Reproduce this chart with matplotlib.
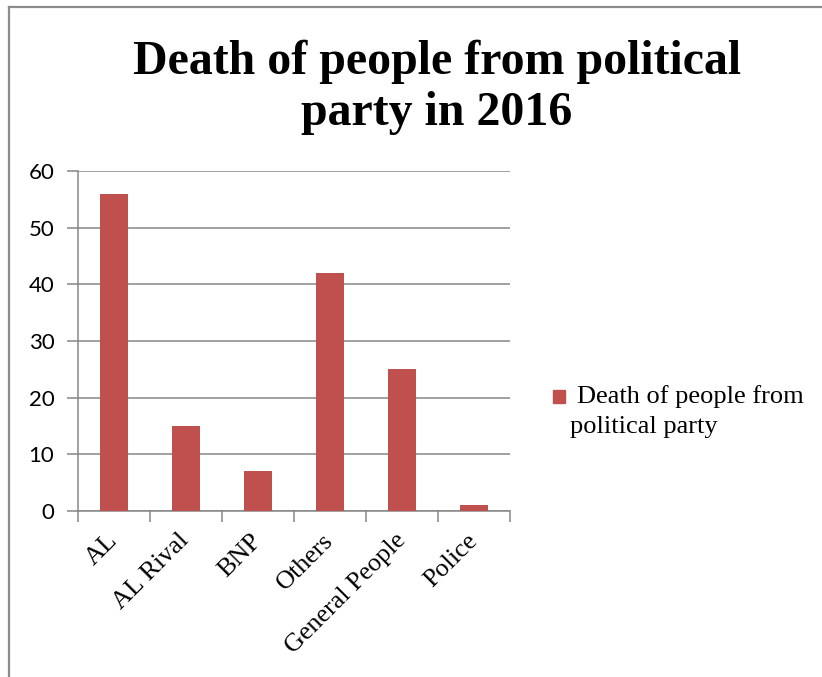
import matplotlib
matplotlib.use('Agg')
import matplotlib.pyplot as plt
from matplotlib.patches import Rectangle
from matplotlib.lines import Line2D

# ---------------------- data ----------------------
categories = ['AL', 'AL Rival', 'BNP', 'Others', 'General People', 'Police']
deaths = [56, 15, 7, 42, 25, 1]
y_ticks = [0, 10, 20, 30, 40, 50, 60]
series_name = 'Death of people from political party'
title = 'Death of people from political\nparty in 2016'

bar_color = '#C0504D'
grid_color = '#868686'

W, H = 822, 677
fig = plt.figure(figsize=(W / 100, H / 100), dpi=100, facecolor='white')

# chart border (Excel-like frame, partly cut off)
fig.add_artist(Line2D([9 / W, 9 / W], [0, 1 - 6.5 / H], color='#8C8C8C', lw=1.6))
fig.add_artist(Line2D([9 / W, 1], [1 - 6.5 / H, 1 - 6.5 / H], color='#8C8C8C', lw=1.6))

ax = fig.add_axes([78 / W, 1 - 511 / H, (510 - 78) / W, (511 - 171) / H])
x = list(range(len(categories)))
ax.bar(x, deaths, width=0.4, color=bar_color, zorder=3)

ax.set_xlim(-0.5, len(categories) - 0.5)
ax.set_ylim(0, 60)
ax.set_yticks(y_ticks)
ax.set_yticklabels([str(v) for v in y_ticks], fontfamily='Lato', fontsize=16)
ax.yaxis.grid(True, color=grid_color, lw=1.1, zorder=0)
ax.tick_params(axis='y', length=8, width=1.1, color=grid_color, pad=9)

# category labels at centers, tick marks on boundaries
ax.set_xticks(x)
ax.set_xticklabels(categories, fontfamily='Liberation Serif', fontsize=18.8,
                   rotation=45, ha='right', va='center', rotation_mode='anchor')
ax.tick_params(axis='x', length=0, pad=19)
ax.set_xticks([i - 0.5 for i in range(len(categories) + 1)], minor=True)
ax.tick_params(axis='x', which='minor', length=8, width=1.1, color=grid_color)

for s in ['top', 'right']:
    ax.spines[s].set_visible(False)
for s in ['left', 'bottom']:
    ax.spines[s].set_color(grid_color)
    ax.spines[s].set_linewidth(1.1)

# title
fig.text(437 / W, 1 - 40 / H, title, ha='center', va='top', multialignment='center',
         fontfamily='Liberation Serif', fontweight='bold', fontsize=34.5, linespacing=1.2)

# legend (manual, Excel wraps the label)
fig.add_artist(Rectangle((553 / W, 1 - 403 / H), 12 / W, 13 / H, color=bar_color,
                         transform=fig.transFigure))
words = series_name.split(' ')
fig.text(577 / W, 1 - 397 / H, ' '.join(words[:4]), ha='left', va='center',
         fontfamily='Liberation Serif', fontsize=19)
fig.text(570 / W, 1 - 427 / H, ' '.join(words[4:]), ha='left', va='center',
         fontfamily='Liberation Serif', fontsize=19)

fig.savefig('out.png', dpi=100, facecolor='white')
